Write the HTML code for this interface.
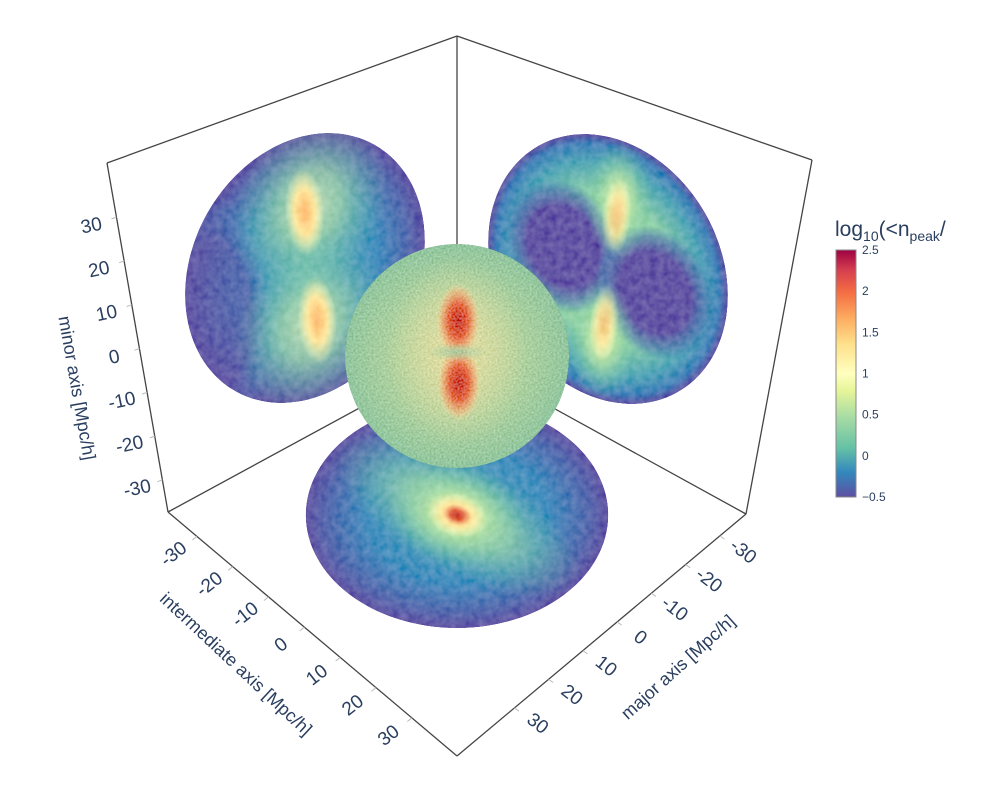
<!DOCTYPE html>
<html><head><meta charset="utf-8"><style>
html,body{margin:0;padding:0;background:#fff;}
svg{display:block;font-family:"Liberation Sans","DejaVu Sans",sans-serif;}
.tk{fill:#2a3f5f;font-size:19px;}
.ttl{fill:#2a3f5f;font-size:18px;}
.cbt{fill:#2a3f5f;font-size:12px;}
</style></head><body>
<svg id="chart" width="982" height="810" viewBox="0 0 982 810" xmlns="http://www.w3.org/2000/svg">
<defs>
  <filter id="grain" x="-5%" y="-5%" width="110%" height="110%">
    <feTurbulence type="fractalNoise" baseFrequency="0.14" numOctaves="2" seed="4" result="n"/>
    <feColorMatrix in="n" type="matrix" values="1 0 0 0 0  1 0 0 0 0  1 0 0 0 0  0 0 0 0 1" result="nm"/>
    <feComposite in="SourceGraphic" in2="nm" operator="arithmetic" k1="0" k2="1" k3="0.16" k4="-0.065" result="mix"/>
    <feComposite in="mix" in2="SourceAlpha" operator="in"/>
  </filter>
  <filter id="grain2" x="-5%" y="-5%" width="110%" height="110%">
    <feTurbulence type="fractalNoise" baseFrequency="0.5" numOctaves="2" seed="9" result="n"/>
    <feColorMatrix in="n" type="matrix" values="1 0 0 0 0  1 0 0 0 0  1 0 0 0 0  0 0 0 0 1" result="nm"/>
    <feComposite in="SourceGraphic" in2="nm" operator="arithmetic" k1="0" k2="1" k3="0.35" k4="-0.16" result="mix"/>
    <feComposite in="mix" in2="SourceAlpha" operator="in"/>
  </filter>
  <radialGradient id="baseBlue" cx="0" cy="0" r="1" gradientUnits="userSpaceOnUse">
    <stop offset="0" stop-color="#52a9b8"/><stop offset="0.6" stop-color="#3b8bbc"/><stop offset="0.85" stop-color="#4f68ad"/><stop offset="1" stop-color="#5e4fa2"/>
  </radialGradient>
  <radialGradient id="baseGreen" cx="0" cy="0" r="1" gradientUnits="userSpaceOnUse">
    <stop offset="0" stop-color="#a6dba4"/><stop offset="0.55" stop-color="#8fd0a4"/><stop offset="0.8" stop-color="#4ba3b5"/><stop offset="0.93" stop-color="#3d7fb8"/><stop offset="1" stop-color="#5e4fa2"/>
  </radialGradient>
  <radialGradient id="glowY" cx="0.5" cy="0.5" r="0.5">
    <stop offset="0" stop-color="#f4f8b0" stop-opacity="1"/><stop offset="0.4" stop-color="#b6e2a2" stop-opacity="0.85"/><stop offset="1" stop-color="#66c2a5" stop-opacity="0"/>
  </radialGradient>
  <radialGradient id="hotY" cx="0.5" cy="0.5" r="0.5">
    <stop offset="0" stop-color="#fdb66a"/><stop offset="0.5" stop-color="#fde49a"/><stop offset="1" stop-color="#ffffbf" stop-opacity="0"/>
  </radialGradient>
  <radialGradient id="purp" cx="0.5" cy="0.5" r="0.5">
    <stop offset="0" stop-color="#5e4fa2"/><stop offset="0.6" stop-color="#5e4fa2"/><stop offset="0.85" stop-color="#4a6fb0" stop-opacity="0.6"/><stop offset="1" stop-color="#3a7fb8" stop-opacity="0"/>
  </radialGradient>
  <radialGradient id="redHot" cx="0.5" cy="0.5" r="0.5">
    <stop offset="0" stop-color="#c2342a"/><stop offset="0.45" stop-color="#e2643e"/><stop offset="0.8" stop-color="#f0b27a" stop-opacity="0.6"/><stop offset="1" stop-color="#f3e0a0" stop-opacity="0"/>
  </radialGradient>
  <radialGradient id="sphereG" cx="0.5" cy="0.5" r="0.5">
    <stop offset="0" stop-color="#c8d69c"/><stop offset="0.55" stop-color="#afd09c"/><stop offset="1" stop-color="#8fc49c"/>
  </radialGradient>
  <radialGradient id="sphereHalo" cx="0.5" cy="0.5" r="0.5">
    <stop offset="0" stop-color="#efdfa0" stop-opacity="0.8"/><stop offset="0.6" stop-color="#e3dca0" stop-opacity="0.4"/><stop offset="1" stop-color="#d0d8a0" stop-opacity="0"/>
  </radialGradient>
  <radialGradient id="gapG" cx="0.5" cy="0.5" r="0.5">
    <stop offset="0" stop-color="#9cc79e" stop-opacity="0.9"/><stop offset="1" stop-color="#9cc79e" stop-opacity="0"/>
  </radialGradient>
  <linearGradient id="cbGrad" x1="0" y1="1" x2="0" y2="0">
    <stop offset="0" stop-color="#5e4fa2"/><stop offset="0.1" stop-color="#3288bd"/><stop offset="0.2" stop-color="#66c2a5"/><stop offset="0.33" stop-color="#abdda4"/><stop offset="0.43" stop-color="#e6f598"/><stop offset="0.5" stop-color="#ffffbf"/><stop offset="0.62" stop-color="#fee08b"/><stop offset="0.72" stop-color="#fdae61"/><stop offset="0.83" stop-color="#f46d43"/><stop offset="0.92" stop-color="#d53e4f"/><stop offset="1" stop-color="#9e0142"/>
  </linearGradient>
  <clipPath id="unitClip"><circle cx="0" cy="0" r="1"/></clipPath>
</defs>

<g stroke="#444" stroke-width="1.3" fill="none">
  <line x1="107" y1="163" x2="457" y2="36"/>
  <line x1="457" y1="36" x2="812" y2="160"/>
  <line x1="457" y1="36" x2="457" y2="355"/>
  <line x1="168" y1="512" x2="457" y2="355"/>
  <line x1="746" y1="514" x2="457" y2="355"/>
  <line x1="107" y1="163" x2="168" y2="512"/>
  <line x1="812" y1="160" x2="746" y2="514"/>
</g>

<g filter="url(#grain)">
 <g transform="matrix(119,-43,15,128,305,268)" clip-path="url(#unitClip)">
  <circle r="1" fill="url(#baseBlue)"/>
  <ellipse cx="-0.75" cy="0.1" rx="0.45" ry="0.9" fill="url(#purp)" opacity="0.6"/>
  <ellipse cx="0.1" cy="-0.45" rx="0.65" ry="0.65" fill="url(#glowY)" opacity="0.75"/>
  <ellipse cx="0.0" cy="0.45" rx="0.65" ry="0.65" fill="url(#glowY)" opacity="0.75"/>
  <ellipse cx="0.05" cy="-0.42" rx="0.16" ry="0.34" fill="url(#hotY)"/>
  <ellipse cx="0.05" cy="0.42" rx="0.16" ry="0.34" fill="url(#hotY)"/>
 </g>
</g>

<g filter="url(#grain)">
 <g transform="matrix(119,43,-15,128,608,269)" clip-path="url(#unitClip)">
  <circle r="1" fill="url(#baseGreen)"/>
  <ellipse cx="-0.38" cy="-0.05" rx="0.5" ry="0.5" fill="url(#purp)"/>
  <ellipse cx="0.4" cy="0.05" rx="0.5" ry="0.5" fill="url(#purp)"/>
  <ellipse cx="0.02" cy="-0.55" rx="0.28" ry="0.45" fill="url(#glowY)" opacity="0.9"/>
  <ellipse cx="0.02" cy="0.55" rx="0.28" ry="0.45" fill="url(#glowY)" opacity="0.9"/>
  <ellipse cx="0.02" cy="-0.42" rx="0.12" ry="0.3" fill="url(#hotY)" opacity="0.8"/>
  <ellipse cx="0.02" cy="0.42" rx="0.12" ry="0.3" fill="url(#hotY)" opacity="0.8"/>
 </g>
</g>

<g filter="url(#grain)">
 <g transform="matrix(107,80,-107,80,457,515)" clip-path="url(#unitClip)">
  <circle r="1" fill="url(#baseBlue)"/>
  <ellipse cx="0" cy="0" rx="1.0" ry="0.45" fill="url(#glowY)" opacity="0.75" transform="rotate(-5)"/>
  <ellipse cx="0" cy="0" rx="0.48" ry="0.42" fill="url(#glowY)"/>
  <ellipse cx="0" cy="0" rx="0.22" ry="0.18" fill="url(#hotY)"/>
  <ellipse cx="0" cy="0" rx="0.11" ry="0.09" fill="url(#redHot)"/>
 </g>
</g>

<g filter="url(#grain2)">
  <circle cx="457" cy="356" r="112" fill="url(#sphereG)"/>
  <ellipse cx="457" cy="352" rx="70" ry="95" fill="url(#sphereHalo)"/>
  <ellipse cx="458" cy="321" rx="22" ry="38" fill="url(#redHot)"/>
  <ellipse cx="459" cy="383" rx="22" ry="38" fill="url(#redHot)"/>
  <ellipse cx="457" cy="352" rx="30" ry="9" fill="url(#gapG)"/>
</g>

<g stroke="#444" stroke-width="1.3" fill="none">
  <line x1="168" y1="512" x2="457" y2="756"/>
  <line x1="457" y1="756" x2="746" y2="514"/>
</g>

<g id="axes"></g>

<g>
  <rect x="836" y="250" width="20" height="247" fill="url(#cbGrad)" stroke="#888" stroke-width="1"/>
  <text x="835" y="236" class="ttl" style="font-size:21px">log<tspan font-size="14" dy="5">10</tspan><tspan dy="-5">(&lt;n</tspan><tspan font-size="14" dy="5">peak</tspan><tspan dy="-5">/</tspan></text>
  <g id="cbticks"></g>
</g>
</svg>
<script>
const minorTicks = [-30, -20, -10, 0, 10, 20, 30];
const intermediateTicks = [-30, -20, -10, 0, 10, 20, 30];
const majorTicks = [-30, -20, -10, 0, 10, 20, 30];
const colorbarTicks = [-0.5, 0, 0.5, 1, 1.5, 2, 2.5];
const colorbarRange = [-0.5, 2.5];

const NS = "http://www.w3.org/2000/svg";
const axesG = document.getElementById('axes');
function edgePoint(a, b, t) { return [a[0] + (b[0] - a[0]) * t, a[1] + (b[1] - a[1]) * t]; }
function minorT(v) { return 0.5315 - v * 0.01255; }
function interT(v) { return 0.472 + v * 0.0124; }
function majorT(v) { return 0.446 + v * 0.01185; }

function drawAxis(ticks, A, B, tf, off, rot, name) {
  ticks.forEach(function (v) {
    const p = edgePoint(A, B, tf(v));
    const tm = document.createElementNS(NS, 'line');
    tm.setAttribute('x1', p[0]); tm.setAttribute('y1', p[1]);
    tm.setAttribute('x2', p[0] + off[0] * 0.2); tm.setAttribute('y2', p[1] + off[1] * 0.2);
    tm.setAttribute('stroke', '#bbb');
    
    
    axesG.appendChild(tm);
    const tx = document.createElementNS(NS, 'text');
    const x = p[0] + off[0], y = p[1] + off[1];
    tx.setAttribute('x', x); tx.setAttribute('y', y);
    tx.setAttribute('class', 'tk');
    tx.setAttribute('text-anchor', 'middle');
    tx.setAttribute('dominant-baseline', 'central');
    tx.setAttribute('transform', 'rotate(' + rot + ' ' + x + ' ' + y + ')');
    tx.textContent = String(v);
    
    
    axesG.appendChild(tx);
  });
}
drawAxis(minorTicks, [107, 163], [168, 512], minorT, [-25, 9], -12, 'minor-axis');
drawAxis(intermediateTicks, [168, 512], [457, 756], interT, [-23, 18], -38, 'intermediate-axis');
drawAxis(majorTicks, [746, 514], [457, 756], majorT, [23, 16], 38, 'major-axis');

function title(txt, x, y, rot, name) {
  const t = document.createElementNS(NS, 'text');
  t.setAttribute('x', x); t.setAttribute('y', y);
  t.setAttribute('class', 'ttl');
  t.setAttribute('text-anchor', 'middle');
  t.setAttribute('dominant-baseline', 'central');
  t.setAttribute('transform', 'rotate(' + rot + ' ' + x + ' ' + y + ')');
  t.textContent = txt;
  
  
  axesG.appendChild(t);
}
title('minor axis [Mpc/h]', 77, 388, 80, 'minor-axis-title');
title('intermediate axis [Mpc/h]', 236, 664, 43, 'intermediate-axis-title');
title('major axis [Mpc/h]', 678, 667, -42, 'major-axis-title');

const cbG = document.getElementById('cbticks');
colorbarTicks.forEach(function (v) {
  const y = 497 - (v - colorbarRange[0]) / (colorbarRange[1] - colorbarRange[0]) * 247;
  const t = document.createElementNS(NS, 'text');
  t.setAttribute('x', 862); t.setAttribute('y', y);
  t.setAttribute('class', 'cbt');
  t.setAttribute('dominant-baseline', 'central');
  t.textContent = v < 0 ? '\u2212' + Math.abs(v) : String(v);
  
  
  cbG.appendChild(t);
});
</script>
</body></html>
